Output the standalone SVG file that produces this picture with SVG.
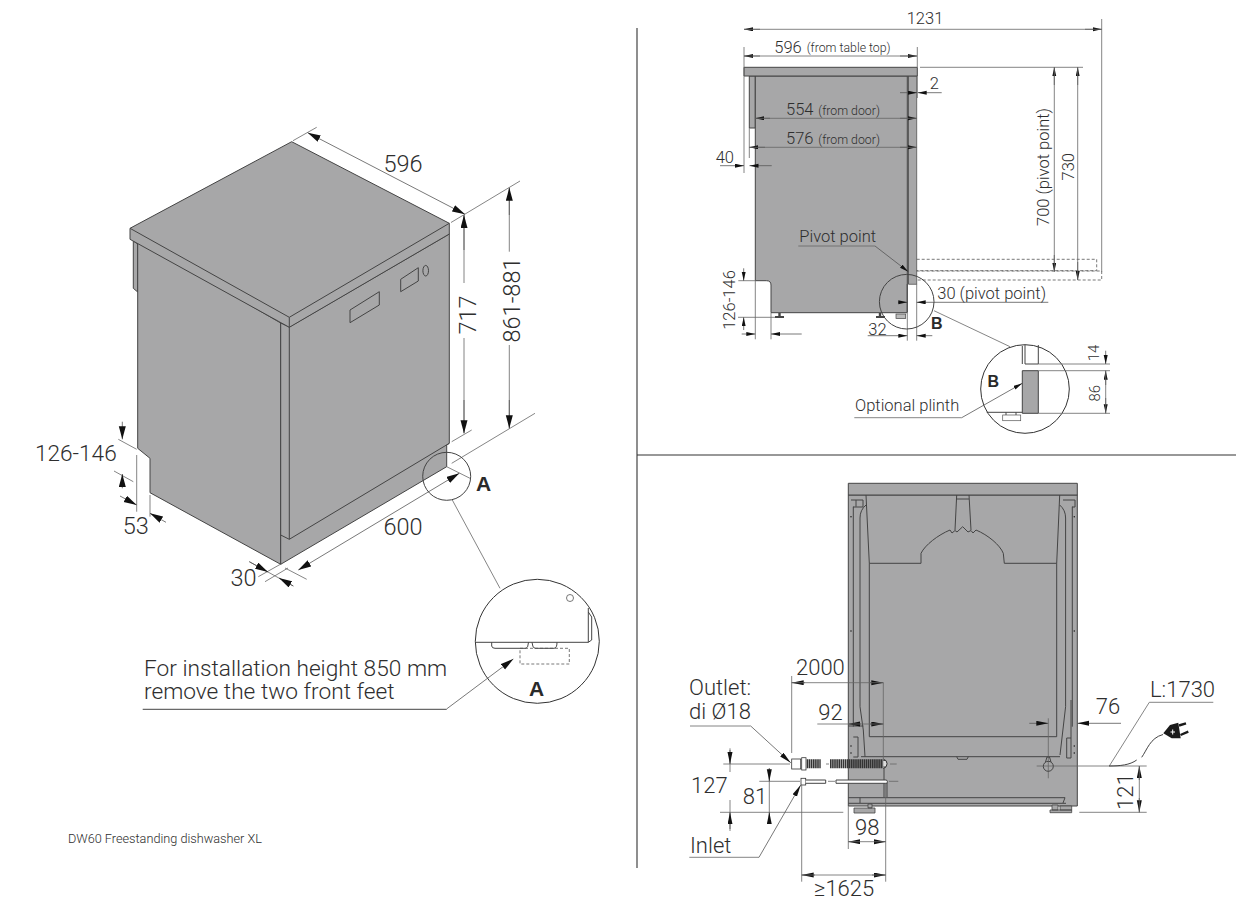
<svg xmlns="http://www.w3.org/2000/svg" width="1242" height="905" viewBox="0 0 1242 905">
<style>
text{font-family:Roboto,"Liberation Sans",Arial,sans-serif;font-weight:300;fill:#2e2e2e}
.xl{font-size:23.5px}.note{font-size:22.7px}.dimw{font-size:22.6px}.l{font-size:22px}.m{font-size:16.5px}.s{font-size:12.3px}.t{font-size:15px}.cap{font-size:12.7px}
.b{font-family:"Liberation Sans",Arial,sans-serif;font-weight:bold;fill:#2a2a2a}
.b20{font-size:21px}.b15{font-size:16px}
.mid{text-anchor:middle}
.body{fill:#a7a7a8;stroke:#444;stroke-width:1;stroke-linejoin:round}
.ln{fill:none;stroke:#444;stroke-width:1}
.thin{fill:none;stroke:#666;stroke-width:.8}
.dash{fill:none;stroke:#555;stroke-width:.8;stroke-dasharray:3 2}
.ari{fill:none;stroke:#555;stroke-width:.8;marker-end:url(#iso)}
.arb{fill:none;stroke:#555;stroke-width:.8;marker-start:url(#iso);marker-end:url(#iso)}
.are{fill:none;stroke:#555;stroke-width:.8;marker-end:url(#big)}
.ars{fill:none;stroke:#555;stroke-width:.8;marker-end:url(#sm)}
.ws{fill:#fff;stroke:#333;stroke-width:.8}
</style>
<defs>
<marker id="iso" markerUnits="userSpaceOnUse" markerWidth="14" markerHeight="8" refX="13" refY="3.5" orient="auto-start-reverse"><path d="M0,0L13,3.5L0,7z" fill="#111"/></marker>
<marker id="big" markerUnits="userSpaceOnUse" markerWidth="13" markerHeight="6" refX="12" refY="2.5" orient="auto-start-reverse"><path d="M0,0L12,2.5L0,5z" fill="#111"/></marker>
<marker id="sm" markerUnits="userSpaceOnUse" markerWidth="10" markerHeight="5" refX="9" refY="2" orient="auto-start-reverse"><path d="M0,0L9,2L0,4z" fill="#111"/></marker>
</defs>
<rect width="1242" height="905" fill="#fff"/>

<g id="dividers"><path d="M637 28V868M637 455H1236" fill="none" stroke="#333" stroke-width="1.1"/></g>

<g id="iso-unit">
<path class="body" d="M133.3 241L137.7 244V292L133.3 288.3Z"/>
<path class="body" d="M137.7 240V448.3L150 458.3V492.7L280.7 564.3V323Z"/>
<path class="body" d="M280.7 564.3L446.7 466.7V445L449.3 443.3V234L289.3 327L280.7 323Z"/>
<path class="ln" d="M289.3 327V539.3L280.7 535M289.3 539.3L449.3 443.3"/>
<path class="body" d="M130 228.3L291.7 141.7L449.3 223.3V234L289.3 327.3L130 239.3Z"/>
<path class="ln" d="M130 228.3L289.3 317.3L449.3 223.3M289.3 317.3V327.3"/>
<path class="ln" d="M350 310L379.3 291.7V305L350 322.7ZM400.7 279.3L418.3 267.7V281L400.7 291.7Z"/>
<ellipse class="ln" cx="425.7" cy="270.7" rx="2.8" ry="5.3"/>
</g>

<g id="iso-dimensions">
<path class="thin" d="M293 140.7L316.7 127.3M451 222.5L520 181M451.7 441.7L471.7 430M451.7 463.3L535 413.3M446.7 466.7L470 478.3M285 568L306.7 579.3M280 564.5L258.3 576.7M249.3 561.7L293.3 586M265 581.7L288 568M118.3 439.3L136.7 449.3M114 471L133.3 481.7M136.7 455V511.7M150 495V516.7"/>
<path class="arb" d="M307.7 132.7L465 214.3"/>
<path class="thin" d="M464 215V283M464 338V433.3"/>
<path class="ari" d="M464 250L464 215"/><path class="ari" d="M464 400L464 433.3"/>
<path class="thin" d="M509.3 187.7V251.7M509.3 345V428.3"/>
<path class="ari" d="M509.3 215L509.3 187.7"/><path class="ari" d="M509.3 400L509.3 428.3"/>
<path class="arb" d="M298.3 570L459.3 473.3"/>
<path class="ari" d="M249.3 561.7L268 572"/><path class="ari" d="M293.3 586L279 578"/>
<path class="ari" d="M122.3 421.7V439.3"/><path class="ari" d="M122.3 488.3V474"/>
<path class="ari" d="M120 496L136.7 505"/><path class="ari" d="M166 522.3L150 513.3"/>
<text class="xl mid" x="403" y="171.5">596</text>
<text class="xl mid" transform="translate(476 315) rotate(-90)">717</text>
<text class="xl mid" transform="translate(520 300) rotate(-90)">861-881</text>
<text class="xl mid" x="403" y="534.5">600</text>
<text class="xl mid" x="243.5" y="586">30</text>
<text class="xl mid" x="135.7" y="534">53</text>
<text class="dimw" x="35" y="461">126-146</text>
<text class="b b20 mid" x="483.5" y="490.5">A</text>
<circle class="ln" cx="446.7" cy="476.3" r="24"/>
<path class="thin" d="M452.3 500L500 588.3"/>
</g>

<g id="detail-a">
<circle cx="537.3" cy="641.3" r="62" fill="#fff" stroke="#333" stroke-width="1"/>
<path class="ln" d="M475.5 642.3H588.3V608M591.7 640V617L588.3 612M588.3 642.3L591.7 640"/>
<circle cx="570" cy="598" r="3.5" fill="#fff" stroke="#555" stroke-width=".8"/>
<path class="ln" d="M491.7 642.3V646Q492 648.3 495 648.3H526Q528 648.3 528.5 642.3M532 642.3Q532.5 648.3 535 648.3H554Q557 648.3 557 642.3"/>
<rect class="dash" x="520" y="648.3" width="49.3" height="15.7"/>
<path class="ln" d="M142.7 709.3H446.7"/>
<path class="ari" d="M446.7 708.9L513.3 659"/>
<text class="note" x="144" y="676">For installation height 850 mm</text>
<text class="note" x="144" y="699.3">remove the two front feet</text>
<text class="b b20 mid" x="536.7" y="696">A</text>
<text class="cap" x="68" y="843">DW60 Freestanding dishwasher XL</text>
</g>

<g id="side-unit">
<path class="body" d="M749.3 76H755.3V128H749.3Z"/>
<path class="body" d="M755.3 76H907.3V312.7H771V285Q771 280.7 766.5 280.7H755.3Z"/>
<path class="body" d="M908.5 76H916.7V284.3H908.5Z" style="stroke-width:.7"/>
<path d="M908 76V284M907.3 284V312" stroke="#555" stroke-width="1.3" fill="none"/>
<rect class="body" x="744" y="67.3" width="173.3" height="8.7"/>
<path d="M779.5 313V316M880 313V316" stroke="#444" stroke-width="2.4" fill="none"/>
<path d="M775 317H784M876 317H885" stroke="#444" stroke-width="2" fill="none"/>
<rect x="896" y="314" width="9.7" height="4.5" fill="#bbb" stroke="#444" stroke-width=".7"/>
<path class="dash" d="M916.7 259.3H1096.7V270.7H916.7M916.7 271H1101.7V280H916.7"/>
</g>

<g id="side-dimensions">
<path class="thin" d="M744 47V173M917.3 47V67M917.3 76V98M1101.7 19V271.7M920 67.3H1083M749.3 128V158M738.3 280.7H755M738 317.3H775M755.3 281V339.3M771 313V339.3M916.7 284V340.7M907.3 313V340.7M798.3 246H875"/>
<path class="ars" d="M760 29.3H744"/><path class="ars" d="M1085 29.3H1101.7"/><path class="thin" d="M744 29.3H1101.7"/>
<path class="ars" d="M760 56H744"/><path class="ars" d="M900 56H917"/><path class="thin" d="M744 56H917"/>
<path class="ars" d="M1054.3 85V67.3"/><path class="ars" d="M1054.3 255V271.7"/><path class="thin" d="M1054.3 67.3V271.7"/>
<path class="ars" d="M1077.7 85V67.3"/><path class="ars" d="M1077.7 262V280"/><path class="thin" d="M1077.7 67.3V280"/>
<path class="ars" d="M900 92.7H917"/><path class="ars" d="M941.7 92.7H917.7"/>
<path class="ars" d="M770 118.3H755.3"/><path class="ars" d="M900 118.3H916.7"/><path class="thin" d="M755.3 118.3H916.7"/>
<path class="ars" d="M765 147.3H749.3"/><path class="ars" d="M900 147.3H916.7"/><path class="thin" d="M749.3 147.3H916.7"/>
<path class="ars" d="M720 165.7H744"/><path class="ars" d="M771.7 165.7H749.5"/>
<path class="ars" d="M875 246L908.3 271.7"/>
<path class="ars" d="M898 302.3H907.3"/><path class="ars" d="M1048.3 302.3H916.7"/>
<path class="ars" d="M867.7 335.7H907.3"/><path class="ars" d="M932.3 335.7H916.7"/>
<path class="ars" d="M743.7 268.3V280.7"/><path class="ars" d="M743.7 330V317.3"/>
<path class="ars" d="M741.7 334H755.3"/><path class="ars" d="M801.7 334H771"/>
<text class="m mid" x="925" y="24">1231</text>
<text class="m" x="774.3" y="52.7">596</text><text class="s" x="806.7" y="52">(from table top)</text>
<text class="m mid" x="934.3" y="89">2</text>
<text class="m" x="786" y="115">554</text><text class="s" x="818.3" y="115">(from door)</text>
<text class="m" x="786" y="144.3">576</text><text class="s" x="818.3" y="144.3">(from door)</text>
<text class="m" x="715.7" y="163.3">40</text>
<text class="m mid" transform="translate(1049.3 167) rotate(-90)">700 (pivot point)</text>
<text class="m mid" transform="translate(1074 166.7) rotate(-90)">730</text>
<text class="m" x="799.3" y="241.7">Pivot point</text>
<text class="m" x="937.3" y="299">30 (pivot point)</text>
<text class="m" x="868.3" y="335">32</text>
<text class="m mid" transform="translate(735 300) rotate(-90)">126-146</text>
<text class="b b15 mid" x="936.7" y="329">B</text>
<circle class="ln" cx="906.7" cy="301.7" r="27.3"/>
<path class="thin" d="M934 310.7L1010 346.7"/>
</g>

<g id="detail-b">
<circle cx="1025" cy="389" r="44.3" fill="#fff" stroke="#333" stroke-width="1"/>
<path class="ln" d="M1025 345V364H1038.3V345M1022.3 346V364"/>
<rect class="body" x="1022.3" y="370.7" width="16" height="42.6"/>
<path class="ln" d="M986.7 412.3H1022.3M1006 412.3V415M1016 412.3V415"/>
<rect x="1002.7" y="415" width="18" height="5.7" fill="#fff" stroke="#555" stroke-width=".7"/>
<path class="thin" d="M1038.3 364H1110M1038.3 370.7H1110M1038.3 413.3H1110M854.3 417.7H961.7"/>
<path class="ars" d="M1105.7 350.7V364"/><path class="ars" d="M1105.7 385V370.7"/><path class="ars" d="M1105.7 398V413.3"/><path class="thin" d="M1105.7 370.7V413.3"/>
<path class="ars" d="M961.7 417.7L1022.3 383.3"/>
<text class="t mid" transform="translate(1099 353) rotate(-90)">14</text>
<text class="t mid" transform="translate(1100 393.3) rotate(-90)">86</text>
<text class="b b15 mid" x="993.3" y="386.7">B</text>
<text class="m" x="855" y="410.7">Optional plinth</text>
</g>

<g id="rear-unit">
<path class="body" d="M848.3 495H1077.3V806H848.3Z"/>
<path class="ln" d="M869.3 563.3V736.7H1056.7V563.3"/>
<path class="ln" d="M866 495L869.3 563.3H921V553.3C925 545 938 535 950 530L952 533L955 530.5L957 532L962.7 526.7L968 532L971 530.5L973 533L976 530C988 535 1000 545 1003.3 553.3L1004.3 563.3H1056.7L1059.7 495"/>
<path class="ln" d="M956.7 495L955 530M969 495L971 530M956.7 499H969"/>
<path class="ln" d="M853.3 506.7V726.7M856 500V506.7M860 518V706.7L863.3 730L865 756.7M860 518Q860 510 866 505M848.3 726H863.3M851 500H863V507H853M861 756.7H1060"/>
<path class="ln" d="M1072.3 506.7V726.7M1071 700V738M1065.6 518V706.7L1060 755M1065.6 518Q1065.6 510 1059.7 505M1063 500H1075V507H1072M1066.7 738H1071V758H1066.7Z"/>
<path class="ln" d="M853.3 737H858V757H853.3"/>
<path class="ln" d="M956.7 756.7L958 759.3H967L968.3 756.7"/>
<path class="ln" d="M848.3 797.7H1065M848.3 803.3H1066M1065 797.7L1063 803M860 797.7V803"/>
<path d="M851 516.7h.01M851 631h.01M851 746h.01M851 753h.01M1074.3 516.7h.01M1074.3 631h.01M1074.3 746h.01M1074.3 753h.01" stroke="#222" stroke-width="1.6" stroke-linecap="round"/>
<rect class="body" x="848.3" y="483.3" width="229" height="11.7"/>
<path class="body" d="M854 808H875V813H854ZM868 804V808H872V804ZM1050 810H1071.7V812.7H1050ZM1052 805H1058V810H1052ZM1060 806H1071.7V810H1060Z" style="stroke-width:.8"/>
</g>

<g id="hoses">
<rect class="ws" x="791.7" y="759" width="9" height="10"/>
<rect class="ws" x="801.7" y="757.7" width="4.3" height="12.3"/>
<path d="M806.7 763.7H820.7M830 763.7H883.3" fill="none" stroke="#333" stroke-width="9" stroke-dasharray="1.6 .5"/>
<path d="M883.3 759A5.5 5 0 0 1 883.3 768.5" fill="#ddd" stroke="#333" stroke-width="1"/>
<path class="ln" d="M883.3 760.5H886M883.3 767H886M884 768V797M887 783V797"/>
<rect class="ws" x="801" y="778.3" width="4.7" height="6.7"/>
<path class="ln" d="M805.7 780H825.7V783.3H805.7M836 780H886.5Q888 781.5 887 783.3H836Z" style="fill:#fff"/>
</g>

<g id="rear-dimensions">
<path class="thin" d="M723.3 764H790M826 764H829M890 764H896.7M759.3 781.3H800M828 781.3H835M889 781.3H898.3M720 812.3H843.3M791.7 676V753M883.3 682.7V760M848.3 806V849M885.7 783V881.7M801.7 785V881.7"/>
<path class="thin" d="M1036.7 766H1146.7"/>
<path class="are" d="M805 682.7H791.7"/><path class="are" d="M870 682.7H883.3"/><path class="thin" d="M791.7 682.7H883.3"/>
<path class="are" d="M861 724H848.3"/><path class="are" d="M870 724H883.3"/><path class="thin" d="M817.3 724H883.3"/>
<path class="thin" d="M690 726H750.7M689.3 857.3H759M1149.3 702.3H1213.3"/>
<path class="are" d="M750.7 726L790.7 762.7"/>
<path class="are" d="M759 857.3L800.7 785"/>
<path class="thin" d="M730 748.3V772M730 800V831M769.3 768.3V812.3M769.3 812.3V823.3"/>
<path class="are" d="M730 750V764"/><path class="are" d="M730 829V812.3"/>
<path class="are" d="M769.3 768.3V781.3"/><path class="are" d="M769.3 823.3V812.3"/>
<path class="are" d="M860 841.7H848.3"/><path class="are" d="M875 841.7H885.7"/><path class="thin" d="M848.3 841.7H885.7"/>
<path class="are" d="M815 875H801.7"/><path class="are" d="M872 875H885.7"/><path class="thin" d="M801.7 875H885.7"/>
<path class="are" d="M1029.3 723.3H1048.3"/><path class="are" d="M1121 723.3H1077.3"/>
<path class="thin" d="M1048.3 718.3V778.3M1149.3 702.3L1109.3 766M1079.3 812.3H1146.7"/>
<path class="ln" d="M1045.5 762L1047 757H1049.5L1051 762"/>
<circle class="ln" cx="1048.3" cy="766.3" r="5"/>
<path class="are" d="M1139.3 780V766"/><path class="are" d="M1139.3 798V812.3"/><path class="thin" d="M1139.3 766V812.3"/>
<text class="l" x="796" y="675">2000</text>
<text class="l" x="818.3" y="720">92</text>
<text class="l" x="689" y="695">Outlet:</text>
<text class="l" x="689" y="719.3">di Ø18</text>
<text class="l" x="691" y="792.7">127</text>
<text class="l" x="742.7" y="804">81</text>
<text class="l" x="690" y="853.3">Inlet</text>
<text class="l" x="855" y="835">98</text>
<text class="l" x="814" y="896">≥1625</text>
<text class="l" x="1095.7" y="714">76</text>
<text class="l" x="1150" y="697.3">L:1730</text>
<text class="l mid" transform="translate(1132.7 791.7) rotate(-90)">121</text>
</g>

<g id="power-cord">
<path class="ln" d="M1109 766C1120 766 1130 765 1136.7 760M1141.7 757.3C1147 750 1150 738 1163 734.5"/>
<path d="M1163.3 733.3L1170 725L1178.3 722.7L1180.7 738.3L1171.7 738.3Z" fill="#1a1a1a"/>
<path d="M1179 725.5L1186 723.3M1180.5 735L1188.3 731.7" stroke="#1a1a1a" stroke-width="2.4" fill="none"/>
<path d="M1170.5 732H1175M1172.7 729.5V734.5" stroke="#fff" stroke-width="1"/>
</g>
</svg>
